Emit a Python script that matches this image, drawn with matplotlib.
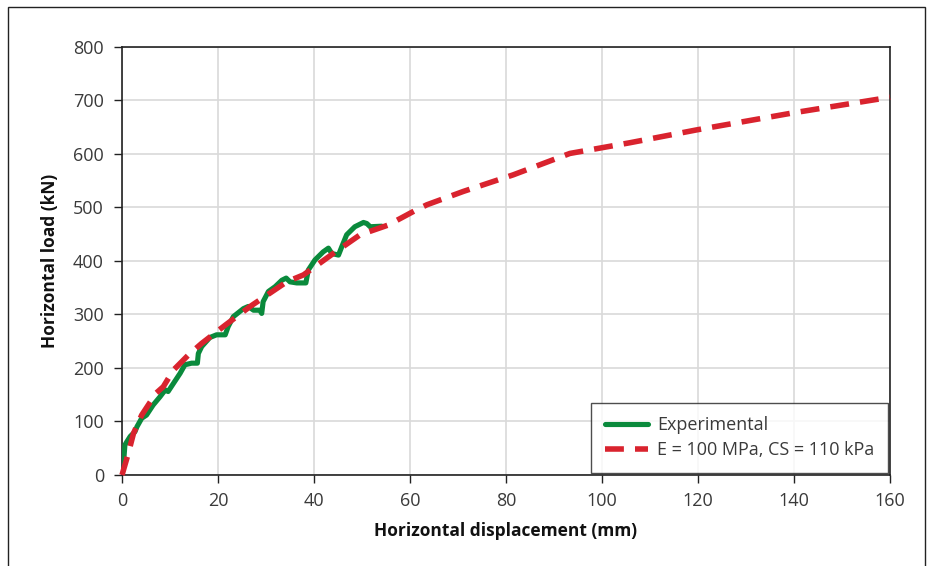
"""Horizontal load vs displacement — experiment vs model"""

import matplotlib
matplotlib.use("Agg")
import matplotlib.pyplot as plt
import matplotlib.patches as mpatches

plt.rcParams["font.family"] = ["Open Sans", "DejaVu Sans"]

# experimental curve (mm, kN)
exp_disp = [0, 0.3, 0.6, 1.0, 1.7, 2.7, 3.1, 4.1, 5.1, 6.5, 7.9, 9.0, 9.6,
            10.7, 12.1, 13.1, 14.5, 15.7, 15.9, 16.6, 18.3, 19.7, 21.5, 22.1,
            23.2, 25.3, 26.3, 27.4, 28.7, 29.1, 29.4, 30.5, 31.9, 33.3, 34.2,
            35.0, 36.4, 38.3, 38.8, 40.2, 41.9, 43.0, 43.7, 45.1, 45.8, 46.8,
            48.5, 50.3, 51.0, 51.7, 54.1]
exp_load = [0, 20, 56, 62, 72, 81, 90, 106, 112, 131, 146, 159, 156,
            171, 190, 206, 209, 209, 227, 240, 257, 262, 262, 277,
            296, 311, 315, 308, 308, 302, 324, 343, 352, 364, 368,
            361, 359, 359, 383, 402, 417, 424, 414, 411, 427, 449,
            464, 472, 470, 464, 465]

# numerical model (E = 100 MPa, CS = 110 kPa)
mod_disp = [0, 1.3, 2.4, 4.1, 7.1, 8.6, 10.7, 13.8, 16.6, 21.5, 26.7, 30.0,
            34.3, 37.8, 44.0, 49.6, 55.4, 61.0, 63.5, 71.1, 81.5, 93.3,
            105.8, 119.7, 139.9, 160.0]
mod_load = [0, 40, 78, 112, 153, 165, 196, 224, 246, 280, 315, 335,
            361, 374, 414, 449, 467, 494, 505, 530, 561, 601,
            621, 645, 677, 706]

GREEN = "#0a8a3c"
RED = "#d9232e"

fig = plt.figure(figsize=(9.35, 5.66), dpi=100)
ax = fig.add_axes([0.1305, 0.1608, 0.8214, 0.7562])

# outer frame of the figure panel (bottom edge off the image)
fig.patches.append(mpatches.Rectangle(
    (8 / 935, -0.2), 917 / 935, 1.2 - 7 / 566, transform=fig.transFigure,
    fill=False, edgecolor="#222222", lw=1.0))

ax.plot(exp_disp, exp_load, color=GREEN, lw=3.7, solid_capstyle="round",
        solid_joinstyle="round", label="Experimental", zorder=3)
ax.plot(mod_disp, mod_load, color=RED, lw=4.0, dashes=(3.4, 2.0),
        label="E = 100 MPa, CS = 110 kPa", zorder=4, clip_on=False)

ax.set_xlim(0, 160)
ax.set_ylim(0, 800)
ax.set_xticks(range(0, 161, 20))
ax.set_yticks(range(0, 801, 100))
ax.grid(True, color="#d9d9d9", lw=1.2)
ax.set_axisbelow(True)
for s in ax.spines.values():
    s.set_color("#222222")
    s.set_linewidth(1.2)
ax.tick_params(direction="out", length=6, width=1, color="#222222",
               labelsize=13, labelcolor="#3a3a3a")
ax.tick_params(axis="y", pad=7)
ax.tick_params(axis="x", pad=6)

ax.set_xlabel("Horizontal displacement (mm)", fontsize=12.5, fontweight="bold",
              labelpad=9, color="#111111")
ax.set_ylabel("Horizontal load (kN)", fontsize=12.5, fontweight="bold",
              labelpad=10, color="#111111")

leg = ax.legend(loc="lower right", fontsize=13, frameon=True, fancybox=False,
                borderaxespad=0.12, handlelength=2.4, handletextpad=0.5,
                borderpad=0.75, labelspacing=0.4)
leg.get_frame().set_edgecolor("#222222")
leg.get_frame().set_linewidth(1.0)
for t in leg.get_texts():
    t.set_color("#3a3a3a")

fig.savefig("out.png", dpi=100)
